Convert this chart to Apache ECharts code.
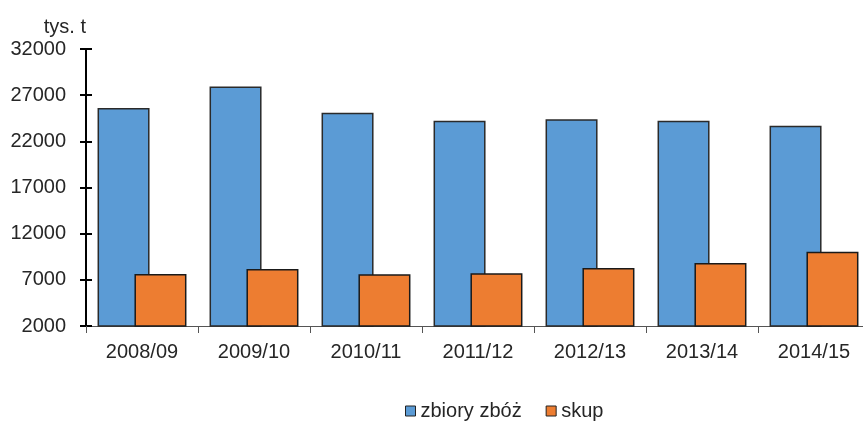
<!DOCTYPE html>
<html>
<head>
<meta charset="utf-8">
<script src="https://cdn.jsdelivr.net/npm/echarts@6/dist/echarts.min.js"></script>
<style>
html, body { margin: 0; padding: 0; background: #fff; }
#chart { width: 863px; height: 421px; }
</style>
</head>
<body>
<div id="chart"></div>
<script>
const seasons = ['2008/09', '2009/10', '2010/11', '2011/12', '2012/13', '2013/14', '2014/15']
const zbiory = [25600, 27950, 25100, 24240, 24380, 24240, 23690]
const skup = [7630, 8170, 7600, 7710, 8280, 8820, 10050]
const yMin = 2000
const yMax = 32000
const yStep = 5000

const font = 'Liberation Sans, Arial, sans-serif'
const txt = '#262626'
const chart = echarts.init(document.getElementById('chart'))

const baseY = {
    type: 'value',
    min: yMin,
    max: yMax,
    interval: yStep,
    splitLine: { show: false },
    axisLine: { show: true, lineStyle: { color: '#000', width: 2 } }
}

const options = {
    animation: false,
    textStyle: { fontFamily: font },
    grid: { left: 86, right: -7, top: 49, bottom: 95, outerBoundsMode: 'none' },
    legend: {
        left: 400,
        top: 396,
        icon: 'rect',
        itemWidth: 10,
        itemHeight: 10,
        itemGap: 24,
        itemStyle: { borderColor: '#222', borderWidth: 1 },
        textStyle: { fontSize: 20, color: txt, fontFamily: font },
        data: ['zbiory zbóż', 'skup']
    },
    xAxis: {
        type: 'category',
        data: seasons,
        axisLine: { lineStyle: { color: '#555', width: 1 } },
        axisTick: { show: true, length: 7, lineStyle: { color: '#555' } },
        axisLabel: { fontSize: 20, color: txt, margin: 16 }
    },
    yAxis: [
        Object.assign({}, baseY, {
            name: 'tys. t',
            nameLocation: 'end',
            nameGap: 12,
            nameTextStyle: { fontSize: 20, color: txt, align: 'right', padding: [0, 0, 0, 0] },
            axisTick: { show: true, length: 6, lineStyle: { color: '#000', width: 2 } },
            axisLabel: { fontSize: 20, color: txt, margin: 20, formatter: v => String(v) }
        }),
        Object.assign({}, baseY, {
            position: 'left',
            axisTick: { show: true, inside: true, length: 6, lineStyle: { color: '#000', width: 2 } },
            axisLabel: { show: false }
        })
    ],
    series: [
        {
            name: 'zbiory zbóż',
            type: 'bar',
            data: zbiory,
            barWidth: 52,
            barGap: '-29%',
            itemStyle: { color: '#5B9BD5', borderColor: '#2a2a2a', borderWidth: 1.5 }
        },
        {
            name: 'skup',
            type: 'bar',
            data: skup,
            barWidth: 52,
            barGap: '-29%',
            itemStyle: { color: '#ED7D31', borderColor: '#1a1a1a', borderWidth: 1.5 }
        }
    ]
}

chart.setOption(options)
</script>
</body>
</html>
